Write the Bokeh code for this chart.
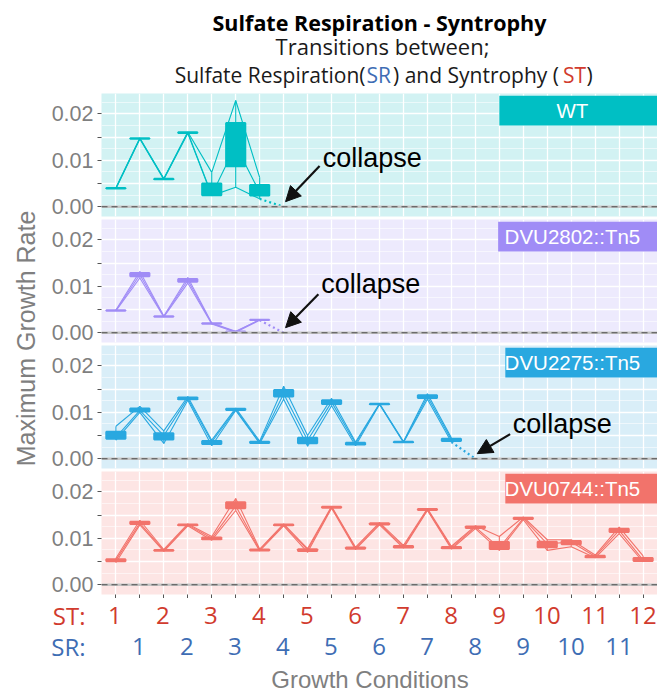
import math
import numpy as np
from bokeh.plotting import figure
from bokeh.layouts import column, row
from bokeh.models import (Range1d, FixedTicker, Label, Arrow, NormalHead,
                          Span, BoxAnnotation, CustomJSTickFormatter, ColumnDataSource)
from bokeh.core.properties import value
from bokeh.embed import file_html
from bokeh.resources import INLINE

nan = float("nan")

# ---------------- data ----------------
positions = list(range(1, 24))
st_labels = [str(i) for i in range(1, 13)]   # odd positions
sr_labels = [str(i) for i in range(1, 12)]   # even positions

strains = ["WT", "DVU2802::Tn5", "DVU2275::Tn5", "DVU0744::Tn5"]
collapse_positions = [8, 8, 16, None]

wt_rep1 = [0.0041, 0.0148, 0.0061, 0.0161, 0.0074, 0.0229, 0.0063]
wt_rep2 = [0.0040, 0.0147, 0.0060, 0.0160, 0.0026, 0.0132, 0.0031]
wt_rep3 = [0.0039, 0.0146, 0.0059, 0.0158, 0.0024, 0.0042, 0.0017]

dvu2802_rep1 = [0.0049, 0.0132, 0.0036, 0.0119, 0.0021, 0.0003, 0.0028]
dvu2802_rep2 = [0.0048, 0.0125, 0.0035, 0.0113, 0.0020, 0.0002, 0.0028]
dvu2802_rep3 = [0.0047, 0.0118, 0.0034, 0.0107, 0.0019, 0.0001, 0.0027]

dvu2275_rep1 = [0.0070, 0.0113, 0.0060, 0.0134, 0.0040, 0.0109, 0.0038, 0.0156,
                0.0050, 0.0130, 0.0036, 0.0119, 0.0037, 0.0140, 0.0045]
dvu2275_rep2 = [0.0046, 0.0104, 0.0050, 0.0130, 0.0036, 0.0106, 0.0035, 0.0140,
                0.0040, 0.0122, 0.0033, 0.0118, 0.0036, 0.0134, 0.0041]
dvu2275_rep3 = [0.0040, 0.0100, 0.0033, 0.0126, 0.0028, 0.0104, 0.0033, 0.0128,
                0.0027, 0.0114, 0.0028, 0.0117, 0.0035, 0.0128, 0.0036]

dvu0744_rep1 = [0.0057, 0.0139, 0.0076, 0.0131, 0.0104, 0.0186, 0.0077, 0.0131,
                0.0078, 0.0169, 0.0081, 0.0134, 0.0085, 0.0164, 0.0083, 0.0127,
                0.0104, 0.0146, 0.0097, 0.0097, 0.0064, 0.0124, 0.0062]
dvu0744_rep2 = [0.0053, 0.0133, 0.0074, 0.0129, 0.0100, 0.0170, 0.0075, 0.0129,
                0.0075, 0.0167, 0.0079, 0.0131, 0.0082, 0.0162, 0.0080, 0.0124,
                0.0080, 0.0143, 0.0088, 0.0092, 0.0061, 0.0117, 0.0053]
dvu0744_rep3 = [0.0048, 0.0129, 0.0072, 0.0127, 0.0096, 0.0160, 0.0073, 0.0127,
                0.0070, 0.0165, 0.0076, 0.0129, 0.0079, 0.0160, 0.0077, 0.0121,
                0.0074, 0.0140, 0.0074, 0.0082, 0.0058, 0.0110, 0.0049]

replicates = [
    [wt_rep1, wt_rep2, wt_rep3],
    [dvu2802_rep1, dvu2802_rep2, dvu2802_rep3],
    [dvu2275_rep1, dvu2275_rep2, dvu2275_rep3],
    [dvu0744_rep1, dvu0744_rep2, dvu0744_rep3],
]

# ---------------- styles ----------------
line_colors = ["#00BFC4", "#A08CF6", "#29A8E0", "#F2736B"]
bg_colors = ["#D2F2F3", "#EDEAFD", "#D9EEF8", "#FDE5E4"]
strip_left = [17.0, 16.95, 17.25, 17.25]
ann = [  # label x offset, label y, tail x offset, tail y
    (1.63, 0.0106, 1.50, 0.0088),
    (1.57, 0.0104, 1.45, 0.0083),
    (1.56, 0.0074, 1.45, 0.0053),
    None,
]
ST_COLOR = "#D13B2E"
SR_COLOR = "#3E6DB4"
GREY = "#7F7F7F"
TXT = "#1a1a1a"

Y0, Y1 = -0.0021, 0.0244
X0, X1 = 0.4, 23.6
major_y = [0.0, 0.005, 0.01, 0.015, 0.02]
minor_y = [0.0025, 0.0075, 0.0125, 0.0175, 0.0225]

W = 657          # page width
YLAB_W = 48      # y-label strip width
PW = W - YLAB_W  # width of panel column
LEFT = 52        # left border of panels
FRAME_H = 123
FRAME_W = PW - LEFT


def pad(v):
    return list(v) + [nan] * (len(positions) - len(v))


def make_panel(idx, bottom_border):
    color = line_colors[idx]
    p = figure(width=PW, height=FRAME_H + bottom_border,
               x_range=Range1d(X0, X1), y_range=Range1d(Y0, Y1),
               output_backend="svg", toolbar_location=None, title=None,
               min_border_left=LEFT, min_border_right=0,
               min_border_top=0, min_border_bottom=bottom_border,
               background_fill_color=bg_colors[idx], border_fill_color="white",
               outline_line_color=None)
    p.ygrid.ticker = FixedTicker(ticks=major_y, minor_ticks=minor_y)
    p.ygrid.grid_line_color = "white"
    p.ygrid.grid_line_width = 1.3
    p.ygrid.minor_grid_line_color = "white"
    p.ygrid.minor_grid_line_width = 0.7
    p.ygrid.minor_grid_line_alpha = 0.8
    p.xgrid.ticker = FixedTicker(ticks=positions)
    p.xgrid.grid_line_color = "white"
    p.xgrid.grid_line_width = 1.3

    p.yaxis.ticker = FixedTicker(ticks=major_y)
    p.yaxis.formatter = CustomJSTickFormatter(
        code="return (Math.abs(tick*100 - Math.round(tick*100)) < 1e-6) ? tick.toFixed(2) : '';")
    p.yaxis.axis_line_color = None
    p.yaxis.major_tick_out = 4
    p.yaxis.major_tick_in = 0
    p.yaxis.minor_tick_out = 0
    p.yaxis.minor_tick_in = 0
    p.yaxis.major_tick_line_color = "#555555"
    p.yaxis.major_label_standoff = 4
    p.yaxis.major_label_text_font = "Liberation Sans"
    p.yaxis.major_label_text_font_size = "21.5px"
    p.yaxis.major_label_text_color = GREY

    p.add_layout(Span(location=0, dimension="width", line_color="#C4C4C4", line_width=2.5))
    p.add_layout(Span(location=0, dimension="width", line_color="#4D4D4D",
                      line_width=1.2, line_dash="6 4"))

    reps = np.array([pad(r) for r in replicates[idx]], dtype=float)
    for r in reps:
        p.line(positions, r, line_color=color, line_width=1.1)
    valid = ~np.isnan(reps).all(axis=0)
    xs = np.array(positions)[valid]
    vals = reps[:, valid]
    src = ColumnDataSource(dict(
        x=xs, left=xs - 0.4, right=xs + 0.4,
        lo=np.min(vals, axis=0), hi=np.max(vals, axis=0),
        q1=np.percentile(vals, 25, axis=0), q3=np.percentile(vals, 75, axis=0),
    ))
    p.segment(x0="x", y0="lo", x1="x", y1="hi", source=src, line_color=color, line_width=1.1)
    p.quad(left="left", right="right", bottom="q1", top="q3", source=src,
           fill_color=color, line_color=color, line_width=2)

    cp = collapse_positions[idx]
    if cp is not None:
        last = int(np.where(valid)[0][-1])
        x_last = positions[last]
        y_last = float(np.min(reps[:, last]))
        p.line([x_last, cp], [y_last, 0.0], line_color=color, line_width=2.2, line_dash="2 3")
        lx, ly, tx, ty = ann[idx]
        p.add_layout(Arrow(end=NormalHead(size=15, fill_color="#111111", line_color="#111111"),
                           x_start=cp + tx, y_start=ty, x_end=cp + 0.08, y_end=0.0011,
                           line_color="#111111", line_width=2.2))
        p.add_layout(Label(x=cp + lx, y=ly, text="collapse", text_baseline="middle",
                           text_align="left", text_font="Liberation Sans",
                           text_font_size="27px", text_color="black"))

    p.add_layout(BoxAnnotation(left=strip_left[idx], right=X1, bottom=0.0175, top=0.0239,
                               fill_color=color, fill_alpha=1.0, line_color=None))
    p.add_layout(Label(x=20.05, y=0.0207, text=strains[idx], text_align="center",
                       text_baseline="middle", text_font="Liberation Sans",
                       text_font_size="20.5px", text_color="white"))
    return p


p1 = make_panel(0, 3)
p2 = make_panel(1, 3)
p3 = make_panel(2, 3)
p4 = make_panel(3, 4)
for p in (p1, p2, p3):
    p.xaxis.visible = False

# tick marks under the last panel
xa = p4.xaxis[0]
xa.ticker = FixedTicker(ticks=positions)
xa.major_label_overrides = {pos: "" for pos in positions}
xa.major_label_text_font_size = "0px"
xa.major_label_standoff = 0
xa.axis_line_color = None
xa.major_tick_out = 4
xa.major_tick_in = 0
xa.minor_tick_out = 0
xa.minor_tick_in = 0
xa.major_tick_line_color = "#555555"

# ---------------- title ----------------
TH = 93
tf = figure(width=W, height=TH, x_range=Range1d(0, W), y_range=Range1d(0, TH),
            output_backend="svg", toolbar_location=None, title=None,
            x_axis_location=None, y_axis_location=None, min_border=0,
            outline_line_color=None)
tf.grid.visible = False
tf.add_layout(Label(x=379, y=71, text="Sulfate Respiration - Syntrophy", text_align="center",
                    text_baseline="middle", text_font="Open Sans", text_font_style="bold",
                    text_font_size="21.5px", text_color="black"))
tf.add_layout(Label(x=382, y=48, text="Transitions between;", text_align="center",
                    text_baseline="middle", text_font="Open Sans",
                    text_font_size="22px", text_color=TXT))
pieces = ["Sulfate Respiration(", "SR", ") and Syntrophy (", "ST", ")"]
piece_colors = [TXT, SR_COLOR, TXT, ST_COLOR, TXT]
piece_x = [365, 366, 392.5, 562.5, 586]
piece_align = ["right", "left", "left", "left", "left"]
for t, c, x, a in zip(pieces, piece_colors, piece_x, piece_align):
    tf.add_layout(Label(x=x, y=19, text=t, text_align=a, text_baseline="middle",
                        text_font="Open Sans", text_font_size="21px", text_color=c))

# ---------------- y label ----------------
RH = 3 * (FRAME_H + 3) + FRAME_H + 4
yf = figure(width=YLAB_W, height=RH, x_range=Range1d(0, YLAB_W), y_range=Range1d(0, RH),
            output_backend="svg", toolbar_location=None, title=None,
            x_axis_location=None, y_axis_location=None, min_border=0,
            outline_line_color=None)
yf.grid.visible = False
yf.add_layout(Label(x=25, y=RH - (338 - TH), text="Maximum Growth Rate", angle=math.pi / 2,
                    text_align="center", text_baseline="middle", text_font="Liberation Sans",
                    text_font_size="25px", text_color=GREY))

# ---------------- bottom: condition labels ----------------
BH = 694 - TH - RH
ppu = FRAME_W / (X1 - X0)
bx0 = X0 - (YLAB_W + LEFT) / ppu
bf = figure(width=W, height=BH, x_range=Range1d(bx0, X1), y_range=Range1d(0, BH),
            output_backend="svg", toolbar_location=None, title=None,
            x_axis_location=None, y_axis_location=None, min_border=0,
            outline_line_color=None)
bf.grid.visible = False
st_pos = positions[0::2]
sr_pos = positions[1::2]
y_st = BH - (614.5 - TH - RH)
y_sr = BH - (646 - TH - RH)
bf.text(x=st_pos, y=y_st, text=st_labels, text_align="center", text_baseline="middle",
        text_font=value("Open Sans"), text_font_size="24px", text_color=ST_COLOR)
bf.text(x=sr_pos, y=y_sr, text=sr_labels, text_align="center", text_baseline="middle",
        text_font=value("Open Sans"), text_font_size="24px", text_color=SR_COLOR)
lab_x = X0 - (100 - 85) / ppu
bf.add_layout(Label(x=lab_x, y=y_st, text="ST:", text_align="right", text_baseline="middle",
                    text_font="Open Sans", text_font_size="24px", text_color=ST_COLOR))
bf.add_layout(Label(x=lab_x, y=y_sr, text="SR:", text_align="right", text_baseline="middle",
                    text_font="Open Sans", text_font_size="24px", text_color=SR_COLOR))
gc_x = X0 + (369.5 - 100) / ppu
bf.add_layout(Label(x=gc_x, y=BH - (679 - TH - RH), text="Growth Conditions",
                    text_align="center", text_baseline="middle", text_font="Liberation Sans",
                    text_font_size="24px", text_color=GREY))

layout = column(tf, row(yf, column(p1, p2, p3, p4, spacing=0), spacing=0), bf, spacing=0)

open("out.html", "w").write(file_html(layout, INLINE))
